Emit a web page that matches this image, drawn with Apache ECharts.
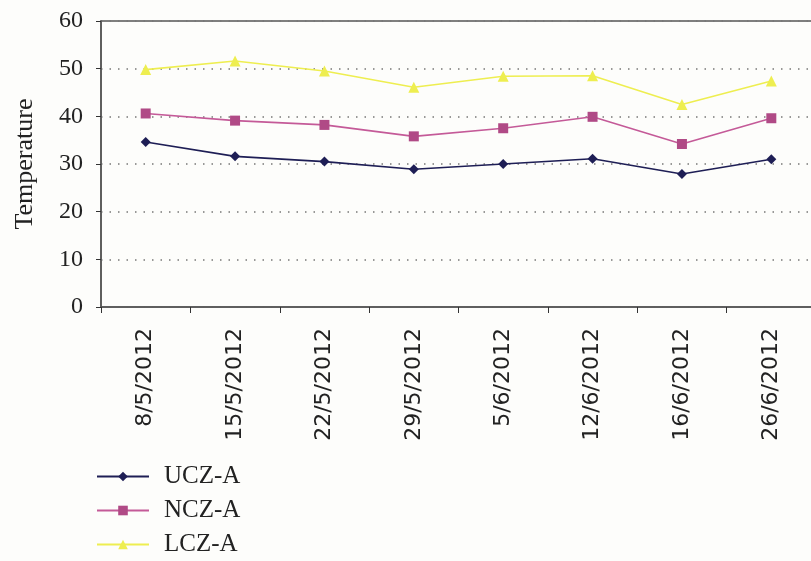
<!DOCTYPE html>
<html>
<head>
<meta charset="utf-8">
<script src="https://cdn.jsdelivr.net/npm/echarts@6/dist/echarts.min.js"></script>
<style>html,body{margin:0;padding:0;background:#fdfdfb;}#c{width:811px;height:561px;}</style>
</head>
<body>
<div id="c"></div>
<script>
const categories = ['8/5/2012','15/5/2012','22/5/2012','29/5/2012','5/6/2012','12/6/2012','16/6/2012','26/6/2012'];
const ucz = [34.6, 31.6, 30.5, 28.9, 30.0, 31.1, 27.9, 31.0];
const ncz = [40.6, 39.1, 38.2, 35.8, 37.5, 39.9, 34.2, 39.6];
const lcz = [49.8, 51.6, 49.5, 46.1, 48.4, 48.5, 42.5, 47.4];
const seriesNames = ['UCZ-A', 'NCZ-A', 'LCZ-A'];
const yTicks = [0, 10, 20, 30, 40, 50, 60];

const chart = echarts.init(document.getElementById('c'));
const serif = 'Liberation Serif';
const legendTops = [464, 498, 532];
const legends = seriesNames.map((n, i) => ({
  orient: 'vertical', left: 96, top: legendTops[i], padding: 0, itemWidth: 52, itemHeight: 12,
  textStyle: {fontFamily: serif, fontSize: 25, color: '#222', padding: [0,0,0,10]},
  data: [n]
}));
chart.setOption({
  backgroundColor: '#fdfdfb',
  animation: false,
  grid: {left: 101, top: 21, width: 715, height: 286, outerBoundsMode: 'none', containLabel: false,
         show: true, borderColor: '#555', borderWidth: 1.5, backgroundColor: 'transparent'},
  legend: legends,
  xAxis: {
    type: 'category', data: categories, boundaryGap: true,
    axisLine: {lineStyle: {color: '#555', width: 1.5}},
    axisTick: {show: true, length: 6, lineStyle: {color: '#333'}},
    axisLabel: {rotate: 90, margin: 21, fontFamily: 'DejaVu Sans', fontSize: 22, color: '#222'}
  },
  yAxis: {
    type: 'value', min: 0, max: 60, interval: 10,
    name: 'Temperature', nameLocation: 'middle', nameGap: 63, nameRotate: 90,
    nameTextStyle: {fontFamily: serif, fontSize: 26, color: '#222'},
    axisLine: {show: true, lineStyle: {color: '#555', width: 1.5}},
    axisTick: {show: true, length: 5, lineStyle: {color: '#333'}},
    axisLabel: {margin: 18, fontFamily: serif, fontSize: 24, color: '#222',
      formatter: v => yTicks.includes(v) ? String(v) : ''},
    splitLine: {show: true, lineStyle: {color: '#777', type: [1.5, 7], width: 1.5}}
  },
  series: [
    {name: seriesNames[0], type: 'line', data: ucz, symbol: 'diamond', symbolSize: 10,
     itemStyle: {color: '#1e1e55'}, lineStyle: {color: '#1e1e55', width: 1.6}},
    {name: seriesNames[1], type: 'line', data: ncz, symbol: 'rect', symbolSize: 10,
     itemStyle: {color: '#b04a86'}, lineStyle: {color: '#c45a98', width: 1.6}},
    {name: seriesNames[2], type: 'line', data: lcz, symbol: 'triangle', symbolSize: 11,
     itemStyle: {color: '#eeee50'}, lineStyle: {color: '#eeee50', width: 1.6}}
  ]
});
</script>
</body>
</html>
